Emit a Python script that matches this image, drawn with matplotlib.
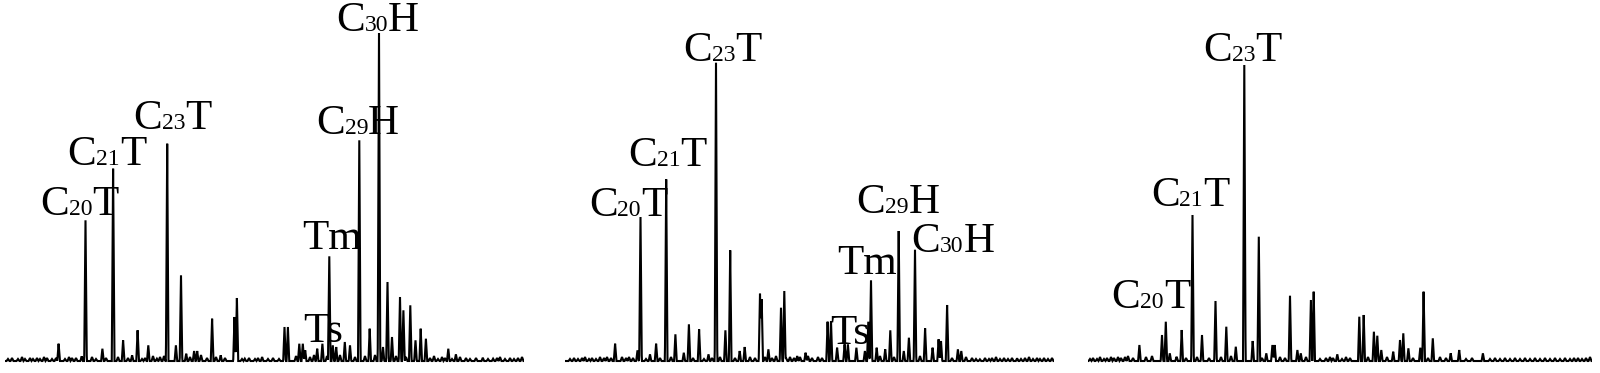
import numpy as np
import matplotlib
matplotlib.use("Agg")
import matplotlib.pyplot as plt
from matplotlib.transforms import offset_copy

# peak retention positions and heights
p1_rt = [58.6, 81.7, 85.5, 102.4, 113.1, 123.1, 132.1, 137.6, 148.3, 156.9,
         167.2, 175.9, 181.0, 186.2, 194.1, 197.2, 212.1, 220.7, 234.5, 236.9,
         244.8, 262.1, 284.5, 287.9, 299.3, 302.8, 305.2, 317.2, 322.4, 329.3,
         332.8, 336.2, 344.8, 350.0, 359.3, 369.7, 379.0, 383.0, 387.5, 392.0,
         400.0, 403.4, 410.3, 415.5, 420.7, 425.9, 448.3, 455.9, 482.8, 493.1]
p1_h = [17.3, 4.7, 140.7, 12.3, 192.3, 20.7, 5.7, 30.7, 15.7, 2.3,
        217.3, 15.7, 85.7, 7.3, 10, 10, 42.3, 5.7, 44, 63,
        2.3, 4, 34, 34, 17.3, 17.3, 10.7, 12.3, 17.3, 104.7,
        15.7, 14, 19, 15.7, 220.7, 32.3, 328, 14, 79, 24,
        64, 50.7, 55.7, 20.7, 32.3, 22.3, 12.3, 6.7, 3.3, 2.3]

p2_rt = [615.1, 637.5, 640.5, 650.0, 656.1, 666.2, 675.4, 683.8, 688.9, 699.1,
         708.5, 716.0, 725.4, 730.2, 739.7, 744.7, 760.0, 761.7, 768.4, 781.0,
         784.3, 797.2, 805.6, 827.6, 831.0, 837.1, 844.6, 847.9, 856.4, 864.9,
         868.3, 871.0, 876.7, 885.2, 890.3, 898.7, 903.8, 908.9, 915.0, 925.1,
         932.6, 938.6, 941.0, 947.1, 957.9, 961.3, 979.9, 1017.1]
p2_h = [17.3, 10.7, 144, 6.7, 17.3, 181.7, 26.7, 8.3, 36.7, 31.7,
        6.7, 298.3, 30.7, 110.7, 10, 14, 67.3, 61.7, 11.7, 53.3,
        70, 5, 8.3, 39.3, 40, 13.3, 16.7, 16.7, 13.3, 10,
        39.3, 80.7, 13.3, 11.7, 30.7, 130, 10, 23.3, 111.3, 32.7,
        13.3, 21.7, 20, 56, 11.7, 10, 1.7, 2.7]

p3_rt = [1139.4, 1162.0, 1165.8, 1169.8, 1176.6, 1181.7, 1192.5, 1202.0, 1215.5, 1226.3,
         1235.8, 1244.3, 1252.7, 1258.8, 1266.3, 1272.4, 1274.7, 1290.0, 1297.4, 1300.8,
         1310.9, 1313.7, 1337.3, 1359.3, 1363.7, 1373.9, 1377.3, 1381.3, 1393.2, 1400.0,
         1403.3, 1408.4, 1420.3, 1423.6, 1432.8, 1450.7, 1459.2, 1482.9]
p3_h = [16, 26, 39.3, 7.7, 4.3, 31, 146, 26, 60, 34.3,
        14.3, 296, 20, 124.3, 7.7, 16, 16, 65.3, 11, 7.7,
        61, 69.3, 6.7, 44.3, 46, 29.3, 25.3, 11, 9.3, 21,
        27.7, 12.7, 13.3, 69.3, 22.7, 7.7, 11, 7.7]

# small baseline bumps (grass)
n1_rt = [8, 12, 18, 22, 25, 30, 33, 37, 40, 44, 47, 52, 56, 65, 69, 72, 76, 92, 96,
         106, 118, 128, 142, 145, 153, 160, 164, 190, 201, 207, 216, 225, 242, 249,
         255, 258, 268, 273, 279, 296, 310, 314, 327, 340, 355, 365, 375, 396, 406,
         430, 434, 438, 442, 445, 452, 460, 466, 470, 476, 488, 497, 500, 505, 510,
         514, 518, 522]
n1_h = [2, 3, 2, 4, 2, 3, 2, 3, 2, 4, 3, 2, 3, 2, 4, 3, 3, 4, 2, 3, 4, 3, 2, 3, 5,
        4, 5, 4, 6, 3, 4, 3, 2, 3, 2, 3, 2, 3, 2, 5, 4, 6, 5, 6, 4, 5, 6, 5, 4, 3,
        5, 2, 4, 3, 2, 4, 3, 2, 3, 2, 3, 4, 2, 3, 2, 3, 4]
n2_rt = [570, 574, 578, 582, 585, 589, 592, 596, 600, 604, 607, 611, 622, 626, 629,
         633, 646, 660, 671, 693, 704, 712, 720, 735, 750, 755, 765, 772, 776, 786,
         790, 794, 800, 808, 812, 818, 822, 880, 894, 920, 952, 966, 972, 976, 985,
         989, 992, 996, 1000, 1004, 1008, 1012, 1021, 1025, 1029, 1033, 1037, 1040,
         1044, 1048, 1052]
n2_h = [2, 3, 2, 3, 4, 2, 3, 2, 4, 3, 4, 3, 4, 3, 4, 3, 2, 3, 4, 3, 2, 3, 4, 3, 4,
        3, 4, 3, 5, 3, 4, 3, 4, 5, 3, 4, 3, 5, 4, 5, 3, 4, 3, 2, 3, 2, 3, 4, 2, 3,
        2, 3, 2, 3, 4, 2, 3, 2, 3, 2, 3]
n3_rt = [1090, 1093, 1097, 1100, 1104, 1107, 1111, 1114, 1118, 1121, 1125, 1128, 1133,
         1146, 1152, 1186, 1197, 1209, 1221, 1231, 1262, 1280, 1285, 1306, 1320, 1326,
         1330, 1333, 1342, 1346, 1350, 1368, 1387, 1413, 1428, 1440, 1446, 1466, 1472,
         1490, 1495, 1500, 1505, 1510, 1515, 1520, 1525, 1530, 1535, 1540, 1545, 1550,
         1555, 1560, 1565, 1570, 1574, 1578, 1582, 1586, 1590]
n3_h = [2, 3, 2, 4, 2, 3, 4, 3, 4, 3, 4, 5, 3, 4, 5, 3, 4, 3, 4, 5, 3, 4, 3, 4, 2,
        3, 4, 3, 2, 4, 3, 4, 4, 3, 3, 4, 3, 2, 3, 2, 3, 2, 3, 2, 3, 2, 3, 2, 3, 2,
        3, 2, 3, 2, 3, 2, 3, 3, 2, 3, 4]

# peak labels: (prefix, subscript, suffix), retention, label height
l1_txt = [("C", "20", "T"), ("C", "21", "T"), ("C", "23", "T"), ("Tm", "", ""),
          ("Ts", "", ""), ("C", "29", "H"), ("C", "30", "H")]
l1_x = [79.3, 106.9, 172.4, 331.7, 323.1, 357.6, 377.5]
l1_y = [146, 196, 231.7, 111.7, 18.7, 226.7, 330]
l2_txt = [("C", "20", "T"), ("C", "21", "T"), ("C", "23", "T"), ("Tm", "", ""),
          ("Ts", "", ""), ("C", "29", "H"), ("C", "30", "H")]
l2_x = [628, 667.6, 722.7, 866.6, 850.3, 897.7, 952.9]
l2_y = [145, 195, 300, 87.3, 16.7, 147.7, 109.3]
l3_txt = [("C", "20", "T"), ("C", "21", "T"), ("C", "23", "T")]
l3_x = [1150.8, 1190.1, 1242.6]
l3_y = [53, 155, 300]

panels = [
    (5, 524, p1_rt, p1_h, n1_rt, n1_h, l1_txt, l1_x, l1_y),
    (565, 1054, p2_rt, p2_h, n2_rt, n2_h, l2_txt, l2_x, l2_y),
    (1088, 1592, p3_rt, p3_h, n3_rt, n3_h, l3_txt, l3_x, l3_y),
]

W, H = 1600, 373
base = 361
big, small = 31, 17
font = "Liberation Serif"

fig = plt.figure(figsize=(W / 100, H / 100), dpi=100)
renderer = fig.canvas.get_renderer()


def trace(x, rt, h, w):
    y = np.zeros_like(x)
    for r, v in zip(rt, h):
        y += v * np.clip(1 - np.abs(x - r) / w, 0, None)
    return y


def put_label(ax, x, y, parts):
    pieces = [(parts[0], big), (parts[1], small), (parts[2], big)]
    pieces = [p for p in pieces if p[0]]
    widths = []
    for s, size in pieces:
        t = ax.text(0, 0, s, fontsize=size, family=font)
        widths.append(t.get_window_extent(renderer).width)
        t.remove()
    dx = -sum(widths) / 2
    for (s, size), w in zip(pieces, widths):
        tr = offset_copy(ax.transData, fig=fig, x=dx, y=0, units="dots")
        ax.text(x, y, s, fontsize=size, family=font, ha="left", va="baseline",
                transform=tr, clip_on=False)
        dx += w


for x0, x1, rt, h, nrt, nh, ltxt, lx, ly in panels:
    ax = fig.add_axes([x0 / W, 0, (x1 - x0) / W, 1])
    # sample on a fine grid plus the apex of every peak
    xs = np.union1d(np.arange(x0, x1 + 0.01, 0.25), np.concatenate([rt, nrt]))
    ys = trace(xs, rt, h, 1.3) + trace(xs, nrt, nh, 1.4)
    ax.plot(xs, ys, color="black", lw=1.5, solid_joinstyle="miter")
    ax.set_xlim(x0, x1)
    ax.set_ylim(-(H - base), base)
    ax.axis("off")
    for parts, x, y in zip(ltxt, lx, ly):
        put_label(ax, x, y, parts)

fig.savefig("out.png", dpi=100)
